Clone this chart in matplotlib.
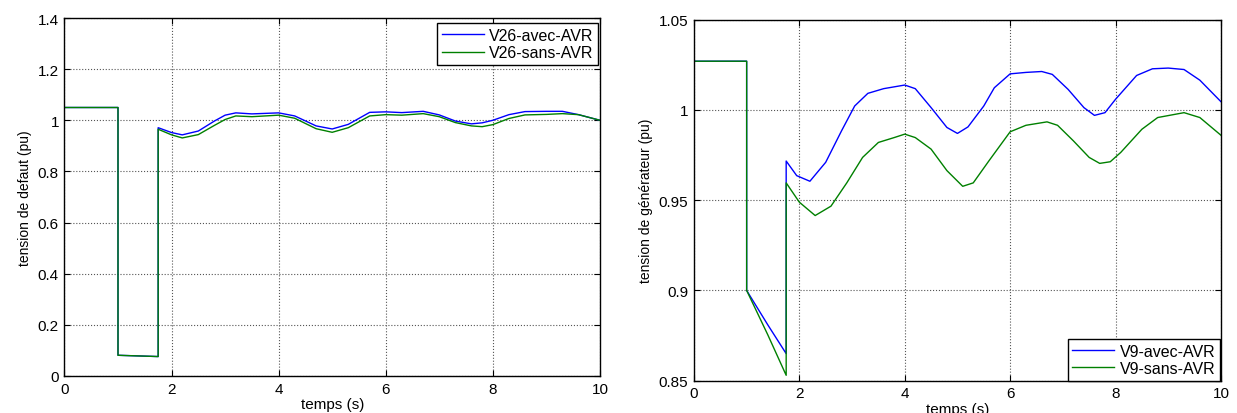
import matplotlib.pyplot as plt

plt.rcParams['font.family'] = ['Liberation Sans', 'DejaVu Sans']

# Fault-bus voltage V26 (pu)
t26 = [0, 1, 1, 1.75, 1.75, 2.0, 2.2, 2.5, 2.8, 3.0, 3.2, 3.5, 4.0, 4.3, 4.7, 5.0, 5.3,
       5.7, 6.0, 6.3, 6.7, 7.0, 7.3, 7.6, 7.8, 8.0, 8.3, 8.6, 9.0, 9.3, 9.6, 10.0]
v26_avec = [1.05, 1.05, 0.081, 0.076, 0.971, 0.952, 0.943, 0.958, 0.997, 1.020, 1.029, 1.025,
            1.029, 1.017, 0.978, 0.966, 0.984, 1.031, 1.033, 1.030, 1.035, 1.021, 0.997, 0.986,
            0.990, 1.000, 1.022, 1.034, 1.035, 1.035, 1.022, 1.000]
v26_sans = [1.05, 1.05, 0.081, 0.076, 0.965, 0.943, 0.931, 0.944, 0.980, 1.003, 1.017, 1.014,
            1.020, 1.008, 0.967, 0.953, 0.971, 1.017, 1.022, 1.020, 1.026, 1.014, 0.991, 0.978,
            0.975, 0.983, 1.007, 1.021, 1.023, 1.026, 1.022, 1.000]

# Generator terminal voltage V9 (pu)
t9_avec = [0, 1, 1, 1.4, 1.75, 1.75, 1.95, 2.2, 2.5, 2.8, 3.05, 3.3, 3.6, 4.0, 4.2, 4.5, 4.8,
           5.0, 5.2, 5.5, 5.7, 6.0, 6.3, 6.6, 6.8, 7.1, 7.4, 7.6, 7.8, 8.0, 8.4, 8.7, 9.0,
           9.3, 9.6, 10.0]
v9_avec = [1.027, 1.027, 0.900, 0.881, 0.865, 0.9717, 0.9636, 0.9605, 0.971, 0.9884, 1.0022,
           1.0092, 1.0118, 1.0138, 1.0118, 1.0013, 0.9903, 0.987, 0.9906, 1.0022, 1.0123,
           1.020, 1.0208, 1.0213, 1.0197, 1.0114, 1.0013, 0.997, 0.9985, 1.0059, 1.0191,
           1.0228, 1.0232, 1.0224, 1.0165, 1.0046]
t9_sans = [0, 1, 1, 1.4, 1.75, 1.75, 2.0, 2.3, 2.6, 2.9, 3.2, 3.5, 3.8, 4.0, 4.2, 4.5, 4.8,
           5.1, 5.3, 5.6, 6.0, 6.3, 6.7, 6.9, 7.2, 7.5, 7.7, 7.9, 8.1, 8.5, 8.8, 9.3, 9.6, 10.0]
v9_sans = [1.027, 1.027, 0.900, 0.8755, 0.853, 0.9596, 0.9489, 0.9415, 0.9467, 0.9596, 0.9737,
           0.982, 0.9847, 0.9866, 0.9847, 0.9783, 0.9664, 0.9577, 0.9596, 0.9719, 0.9879,
           0.9915, 0.9934, 0.9915, 0.9829, 0.9737, 0.9704, 0.9713, 0.9765, 0.9893, 0.9958,
           0.9985, 0.9958, 0.986]

BLUE = '#0000ff'
GREEN = '#008000'
FS = 11

fig = plt.figure(figsize=(12.37, 4.14), dpi=100)
ax1 = fig.add_axes([0.0521, 0.0894, 0.4329, 0.8647])
ax2 = fig.add_axes([0.5610, 0.0780, 0.4260, 0.8720])


def style(ax):
    ax.grid(True, linestyle=':', color='#555555', linewidth=0.8)
    ax.tick_params(direction='in', top=True, right=True, labelsize=FS, length=4, pad=4)
    for s in ax.spines.values():
        s.set_linewidth(1.0)
        s.set_color('black')


def legend(ax, loc, anchor):
    leg = ax.legend(loc=loc, bbox_to_anchor=anchor, fontsize=11.5, fancybox=False,
                    framealpha=1, edgecolor='black', borderaxespad=0.0, handlelength=2.6,
                    handletextpad=0.35, borderpad=0.3, labelspacing=0.15)
    leg.get_frame().set_linewidth(1.0)


ax1.plot(t26, v26_avec, color=BLUE, lw=1.0, label='V26-avec-AVR')
ax1.plot(t26, v26_sans, color=GREEN, lw=1.0, label='V26-sans-AVR')
ax1.set_xlim(0, 10)
ax1.set_ylim(0, 1.4)
ax1.set_xticks([0, 2, 4, 6, 8, 10])
ax1.set_yticks([0, 0.2, 0.4, 0.6, 0.8, 1.0, 1.2, 1.4])
ax1.set_yticklabels(['0', '0.2', '0.4', '0.6', '0.8', '1', '1.2', '1.4'])
ax1.set_xlabel('temps (s)', fontsize=FS, labelpad=1)
ax1.set_ylabel('tension de defaut (pu)', fontsize=10, labelpad=4)
style(ax1)
legend(ax1, 'upper right', (0.997, 0.986))

ax2.plot(t9_avec, v9_avec, color=BLUE, lw=1.0, label='V9-avec-AVR')
ax2.plot(t9_sans, v9_sans, color=GREEN, lw=1.0, label='V9-sans-AVR')
ax2.set_xlim(0, 10)
ax2.set_ylim(0.85, 1.05)
ax2.set_xticks([0, 2, 4, 6, 8, 10])
ax2.set_yticks([0.85, 0.9, 0.95, 1.0, 1.05])
ax2.set_yticklabels(['0.85', '0.9', '0.95', '1', '1.05'])
ax2.set_xlabel('temps (s)', fontsize=FS, labelpad=1)
ax2.set_ylabel('tension de générateur (pu)', fontsize=10, labelpad=4)
style(ax2)
legend(ax2, 'lower right', (0.998, 0.0))

fig.savefig('out.png', dpi=100)
